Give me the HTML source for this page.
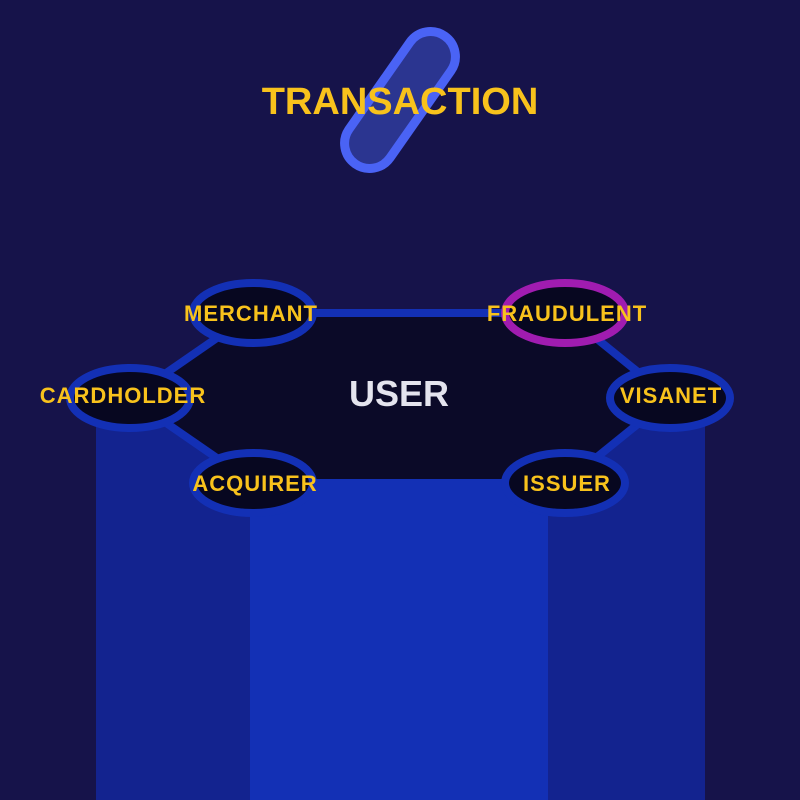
<!DOCTYPE html>
<html><head><style>body{margin:0;background:#16134a}</style></head><body>
<svg width="800" height="800" viewBox="0 0 800 800" xmlns="http://www.w3.org/2000/svg" style="display:block">
<rect width="800" height="800" fill="#16134a"/>
<rect x="96" y="420" width="160" height="380" fill="#13238f"/>
<rect x="545" y="420" width="160" height="380" fill="#13238f"/>
<rect x="250" y="483" width="298" height="317" fill="#1330b5"/>
<polygon points="253,313 565,313 670,398 565,483 253,483 130,398" fill="#0b0a28" stroke="#1330b5" stroke-width="8" stroke-linejoin="round"/>
<g stroke-width="8" fill="#070720">
<ellipse cx="253" cy="313" rx="60" ry="30" stroke="#1330b5"/>
<ellipse cx="565" cy="313" rx="60" ry="30" stroke="#a01cb0"/>
<ellipse cx="670" cy="398" rx="60" ry="30" stroke="#1330b5"/>
<ellipse cx="565" cy="483" rx="60" ry="30" stroke="#1330b5"/>
<ellipse cx="253" cy="483" rx="60" ry="30" stroke="#1330b5"/>
<ellipse cx="130" cy="398" rx="60" ry="30" stroke="#1330b5"/>
</g>
<g font-family="Liberation Sans, sans-serif" font-weight="bold" fill="#f8c21c" font-size="22" letter-spacing="1" text-anchor="middle">
<text x="251" y="321">MERCHANT</text>
<text x="567" y="321">FRAUDULENT</text>
<text x="671" y="403">VISANET</text>
<text x="567" y="491">ISSUER</text>
<text x="255" y="491">ACQUIRER</text>
<text x="123" y="403">CARDHOLDER</text>
</g>
<text x="399" y="406" font-family="Liberation Sans, sans-serif" font-weight="bold" fill="#e4e4ee" font-size="36" text-anchor="middle">USER</text>
<rect x="322" y="75" width="156" height="50" rx="25" transform="rotate(-55 400 100)" fill="#2b3590" stroke="#4a63f5" stroke-width="9"/>
<text x="400" y="114" font-family="Liberation Sans, sans-serif" font-weight="bold" fill="#f8c21c" font-size="38" text-anchor="middle">TRANSACTION</text>
</svg>
</body></html>
